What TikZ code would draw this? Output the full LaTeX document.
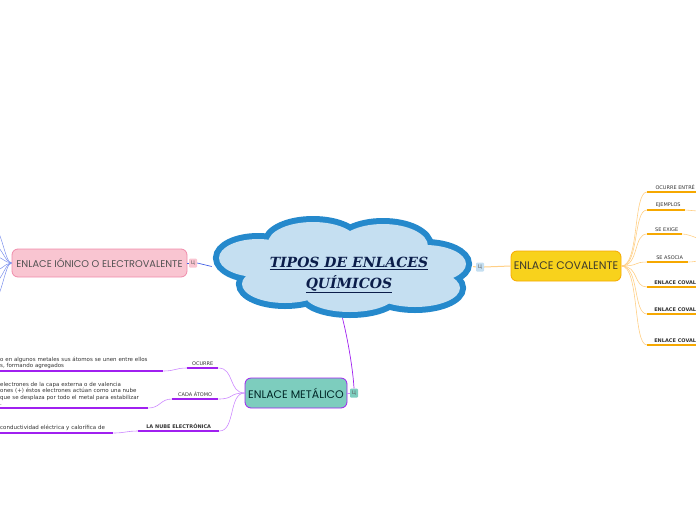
\documentclass[tikz,border=0pt]{standalone}
\usepackage{fontspec}
\usepackage{tikz}
\usepackage{xcolor}
\usetikzlibrary{positioning,shapes.geometric}
\newfontfamily\topicfont{Poppins}
\newfontfamily\smallfont{DejaVu Sans}
\newfontfamily\titlefont{DejaVu Serif}
\definecolor{cloudline}{HTML}{2589CC}
\definecolor{cloudfill}{HTML}{C5DFF1}
\definecolor{titleink}{HTML}{0B1D4A}
\definecolor{ionfill}{HTML}{F9C5D1}
\definecolor{ionline}{HTML}{F08CAB}
\definecolor{ionlink}{HTML}{4562E6}
\definecolor{covfill}{HTML}{F8D21C}
\definecolor{covline}{HTML}{F6A800}
\definecolor{covthin}{HTML}{FFCF86}
\definecolor{metfill}{HTML}{7DCDBE}
\definecolor{metline}{HTML}{A020F0}
\definecolor{metthin}{HTML}{CC88FF}
\definecolor{ink}{HTML}{333333}
\tikzset{
  topic/.style={rounded corners=6pt, line width=0.8pt, inner sep=0pt,
                font=\topicfont\fontsize{11}{12}\selectfont},
  tag/.style={rounded corners=1pt, inner sep=0pt, minimum width=8pt,
              minimum height=9pt, font=\smallfont\fontsize{5}{5}\selectfont, text=ink!80},
  label/.style={anchor=south west, inner xsep=0pt, inner ysep=2pt, align=center,
                font=\smallfont\fontsize{5}{6}\selectfont, text=ink},
  boldlabel/.style={label, font=\smallfont\bfseries\fontsize{5}{6}\selectfont},
  desc/.style={anchor=south west, inner xsep=0pt, inner ysep=2pt, align=left,
               font=\smallfont\fontsize{5.5}{6.6}\selectfont, text=ink},
  covbar/.style={draw=covline, line width=1.3pt},
  covlink/.style={draw=covthin, line width=0.6pt},
  metbar/.style={draw=metline, line width=1.3pt},
  metlink/.style={draw=metthin, line width=0.6pt}
}
\begin{document}
\begin{tikzpicture}[x=1pt,y=-1pt]
  \useasboundingbox (0,0) rectangle (696,520);
  \clip (0,0) rectangle (696,520);

  % central cloud
  \foreach \cx/\cy/\rx/\ry in {258/258/39/19, 313/243/45/21, 383/246/45/22, 425/264/41/19,
                               415/288/45/19, 350/295/45/17, 285/284/43/19}
    \draw[cloudline, line width=12pt] (\cx,\cy) ellipse [x radius=\rx pt, y radius=\ry pt];
  \foreach \cx/\cy/\rx/\ry in {258/258/39/19, 313/243/45/21, 383/246/45/22, 425/264/41/19,
                               415/288/45/19, 350/295/45/17, 285/284/43/19, 342/266/100/30}
    \fill[cloudfill] (\cx,\cy) ellipse [x radius=\rx pt, y radius=\ry pt];
  \node[ellipse, minimum width=261pt, minimum height=103pt, inner sep=0pt] (cloud) at (342.5,266.5) {};
  \node[align=center, text=titleink, font=\titlefont\bfseries\itshape\fontsize{14}{21}\selectfont]
        (title) at (349,275) {\underline{TIPOS DE ENLACES}\\\underline{QUÍMICOS}};

  % ionic branch
  \node[topic, draw=ionline, fill=ionfill, text=ink!85, minimum width=175pt,
        minimum height=28pt, font=\topicfont\fontsize{9.8}{11}\selectfont] (ion) at (99.5,263) {ENLACE IÓNICO O ELECTROVALENTE};
  \node[tag, fill=ionfill] (itag) at (193,263) {Ц};
  \draw[ionlink, line width=0.7pt] (cloud.west) -- (itag.east);
  \draw[ionlink, line width=0.7pt] (itag.west) -- (ion.east);
  \foreach \yy in {222,242,255,272,286,306}
    \draw[ionlink!70, line width=0.5pt] (ion.west) .. controls (4,263) and (2,\yy) .. (-12,\yy);

  % covalent branch
  \node[topic, draw=covline, fill=covfill, text=black!75!olive, minimum width=110pt,
        minimum height=30pt] (cov) at (566,266) {ENLACE COVALENTE};
  \node[tag, fill=cloudfill] (ctag) at (480,267) {Ц};
  \draw[covthin, line width=1pt] (cloud.east) -- (ctag.west);
  \draw[covthin, line width=1pt] (ctag.east) -- (cov.west);

  \node[label, minimum width=52pt] (c1) at (647,192) {\hspace*{4pt}OCURRE ENTRÉ\hfill};
  \node[label, minimum width=38pt] (c2) at (647,210) {\hspace*{4pt}EJEMPLOS\hfill};
  \node[label, minimum width=35pt] (c3) at (647,234) {\hspace*{4pt}SE EXIGE\hfill};
  \node[label, minimum width=41pt] (c4) at (647,262) {\hspace*{4pt}SE ASOCIA\hfill};
  \node[boldlabel, minimum width=52pt] (c5) at (647,287) {\hspace*{4pt}ENLACE COVAL\hfill};
  \node[boldlabel, minimum width=52pt] (c6) at (647,314) {\hspace*{4pt}ENLACE COVAL\hfill};
  \node[boldlabel, minimum width=52pt] (c7) at (647,345) {\hspace*{4pt}ENLACE COVAL\hfill};
  \foreach \c in {c1,c2,c3,c4,c5,c6,c7} {
    \draw[covlink] (cov.east) .. controls +(18,0) and +(-14,0) .. (\c.south west);
    \draw[covbar] (\c.south west) -- (\c.south east);
  }
  \coordinate (e2) at (710,212);
  \coordinate (e3) at (710,242);
  \coordinate (e4) at (710,259);
  \draw[covlink] (c2.south east) -- (e2);
  \draw[covlink] (c3.south east) .. controls +(8,0) and +(-6,0) .. (e3);
  \draw[covlink] (c4.south east) .. controls +(8,0) and +(-6,0) .. (e4);

  % metallic branch
  \node[topic, draw=metline, fill=metfill, text=black!70!teal, minimum width=102pt,
        minimum height=30pt] (met) at (296,393) {ENLACE METÁLICO};
  \node[tag, fill=metfill] (mtag) at (354,393) {Ц};
  \draw[metline, line width=0.7pt] (cloud.south) .. controls (348,340) and (353,370) .. (mtag.north);
  \draw[metthin, line width=0.6pt] (met.east) -- (mtag.west);

  \node[label, minimum width=31pt] (m1) at (187,368) {OCURRE};
  \node[label, minimum width=46pt] (m2) at (172,399) {CADA ÁTOMO};
  \node[boldlabel, minimum width=81pt] (m3) at (138,431) {LA NUBE ELECTRÓNICA};

  \node[desc, text width=163pt] (d1) at (0,371) {o en algunos metales sus átomos se unen entre ellos\\s, formando agregados};
  \node[desc, text width=148pt] (d2) at (0,408) {electrones de la capa externa o de valencia\\ones (+) éstos electrones actúan como una nube\\que se desplaza por todo el metal para estabilizar\\.};
  \node[desc, text width=113pt] (d3) at (0,433) {conductividad eléctrica y calorífica de\\[3pt]};

  \foreach \m/\d in {m1/d1,m2/d2,m3/d3} {
    \draw[metlink] (met.west) .. controls +(-16,0) and +(16,0) .. (\m.south east);
    \draw[metbar] (\m.south west) -- (\m.south east);
    \draw[metlink] (\m.south west) .. controls +(-12,0) and +(12,0) .. (\d.south east);
    \draw[metbar] (\d.south west) -- (\d.south east);
  }
\end{tikzpicture}
\end{document}
